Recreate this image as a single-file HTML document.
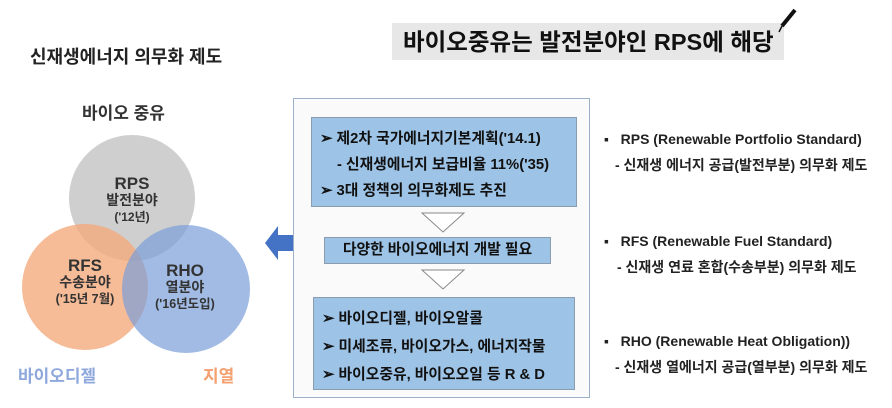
<!DOCTYPE html>
<html><head><meta charset="utf-8"><style>
body{margin:0;width:892px;height:408px;background:#fff;position:relative;overflow:hidden;font-family:"Liberation Sans","Noto Sans CJK KR",sans-serif;font-weight:bold;color:#222}
.a{position:absolute;white-space:nowrap}
.box{position:absolute;background:#9dc3e6;border:1px solid #8a9db0;box-sizing:border-box;font-size:14.8px;color:#111;white-space:nowrap}
.r{position:absolute;font-size:14px;color:#222;white-space:nowrap}
</style></head><body>
<div class="a" style="left:30px;top:43px;font-size:18px;color:#222">신재생에너지 의무화 제도</div>
<div class="a" style="left:392px;top:23px;width:392px;height:37px;background:#e7e7e7"></div>
<div class="a" style="left:403px;top:25px;font-size:23.5px;color:#111;line-height:34px">바이오중유는 발전분야인 RPS에 해당</div>
<svg class="a" style="left:766px;top:6px" width="40" height="30"><line x1="29" y1="4" x2="16" y2="20" stroke="#111" stroke-width="4"/><line x1="16" y1="20" x2="13" y2="26" stroke="#111" stroke-width="1.5"/></svg>

<div class="a" style="left:82px;top:99px;font-size:17px;color:#333">바이오 중유</div>
<svg class="a" style="left:0;top:120px" width="270" height="250">
<circle cx="132" cy="78" r="63" fill="#bfbfbf" fill-opacity="0.75"/>
<circle cx="85" cy="167" r="63" fill="#f4a87a" fill-opacity="0.78"/>
<circle cx="186" cy="169" r="64" fill="#7b9ed8" fill-opacity="0.7"/>
</svg>
<div class="a" style="left:92px;top:175px;width:80px;text-align:center;color:#333;line-height:17px"><div style="font-size:17px">RPS</div><div style="font-size:14px">발전분야</div><div style="font-size:12px">('12년)</div></div>
<div class="a" style="left:45px;top:257px;width:80px;text-align:center;color:#333;line-height:17px"><div style="font-size:17px">RFS</div><div style="font-size:14px">수송분야</div><div style="font-size:12.5px">('15년 7월)</div></div>
<div class="a" style="left:145px;top:262px;width:80px;text-align:center;color:#333;line-height:17px"><div style="font-size:17px">RHO</div><div style="font-size:14px">열분야</div><div style="font-size:12.5px">('16년도입)</div></div>
<div class="a" style="left:18px;top:362px;font-size:17px;color:#8fa8dc">바이오디젤</div>
<div class="a" style="left:203px;top:362px;font-size:17px;color:#f4a070">지열</div>

<svg class="a" style="left:264px;top:224px" width="30" height="38"><polygon points="1,19 14,2 14,11 29,11 29,27 14,27 14,36" fill="#4472c4"/></svg>

<div class="a" style="left:293px;top:98px;width:297px;height:300px;border:1px solid #9cb0c8;box-sizing:border-box;background:#fafafa"></div>
<div class="box" style="left:311px;top:117px;width:266px;height:90px;padding:8px 0 0 8px;line-height:26px">
<div>➢ 제2차 국가에너지기본계획('14.1)</div><div style="padding-left:17px">- 신재생에너지 보급비율 11%('35)</div><div>➢ 3대 정책의 의무화제도 추진</div></div>
<svg class="a" style="left:420px;top:212px" width="46" height="84"><polygon points="2,1 44,1 23,20" fill="#fff" stroke="#888"/><polygon points="2,58 44,58 23,77" fill="#fff" stroke="#888"/></svg>
<div class="box" style="left:324px;top:237px;width:227px;height:27px;text-align:center;line-height:25px">다양한 바이오에너지 개발 필요</div>
<div class="box" style="left:313px;top:297px;width:262px;height:93px;padding:7px 0 0 8px;line-height:28px">
<div>➢ 바이오디젤, 바이오알콜</div><div>➢ 미세조류, 바이오가스, 에너지작물</div><div>➢ 바이오중유, 바이오오일 등 R &amp; D</div></div>

<div class="r" style="left:604px;top:131px">▪&nbsp;&nbsp; RPS (Renewable Portfolio Standard)</div>
<div class="r" style="left:615px;top:155px">- 신재생 에너지 공급(발전부분) 의무화 제도</div>
<div class="r" style="left:604px;top:233px">▪&nbsp;&nbsp; RFS (Renewable Fuel Standard)</div>
<div class="r" style="left:617px;top:257px">- 신재생 연료 혼합(수송부분) 의무화 제도</div>
<div class="r" style="left:604px;top:333px">▪&nbsp;&nbsp; RHO (Renewable Heat Obligation))</div>
<div class="r" style="left:615px;top:357px">- 신재생 열에너지 공급(열부분) 의무화 제도</div>
</body></html>
